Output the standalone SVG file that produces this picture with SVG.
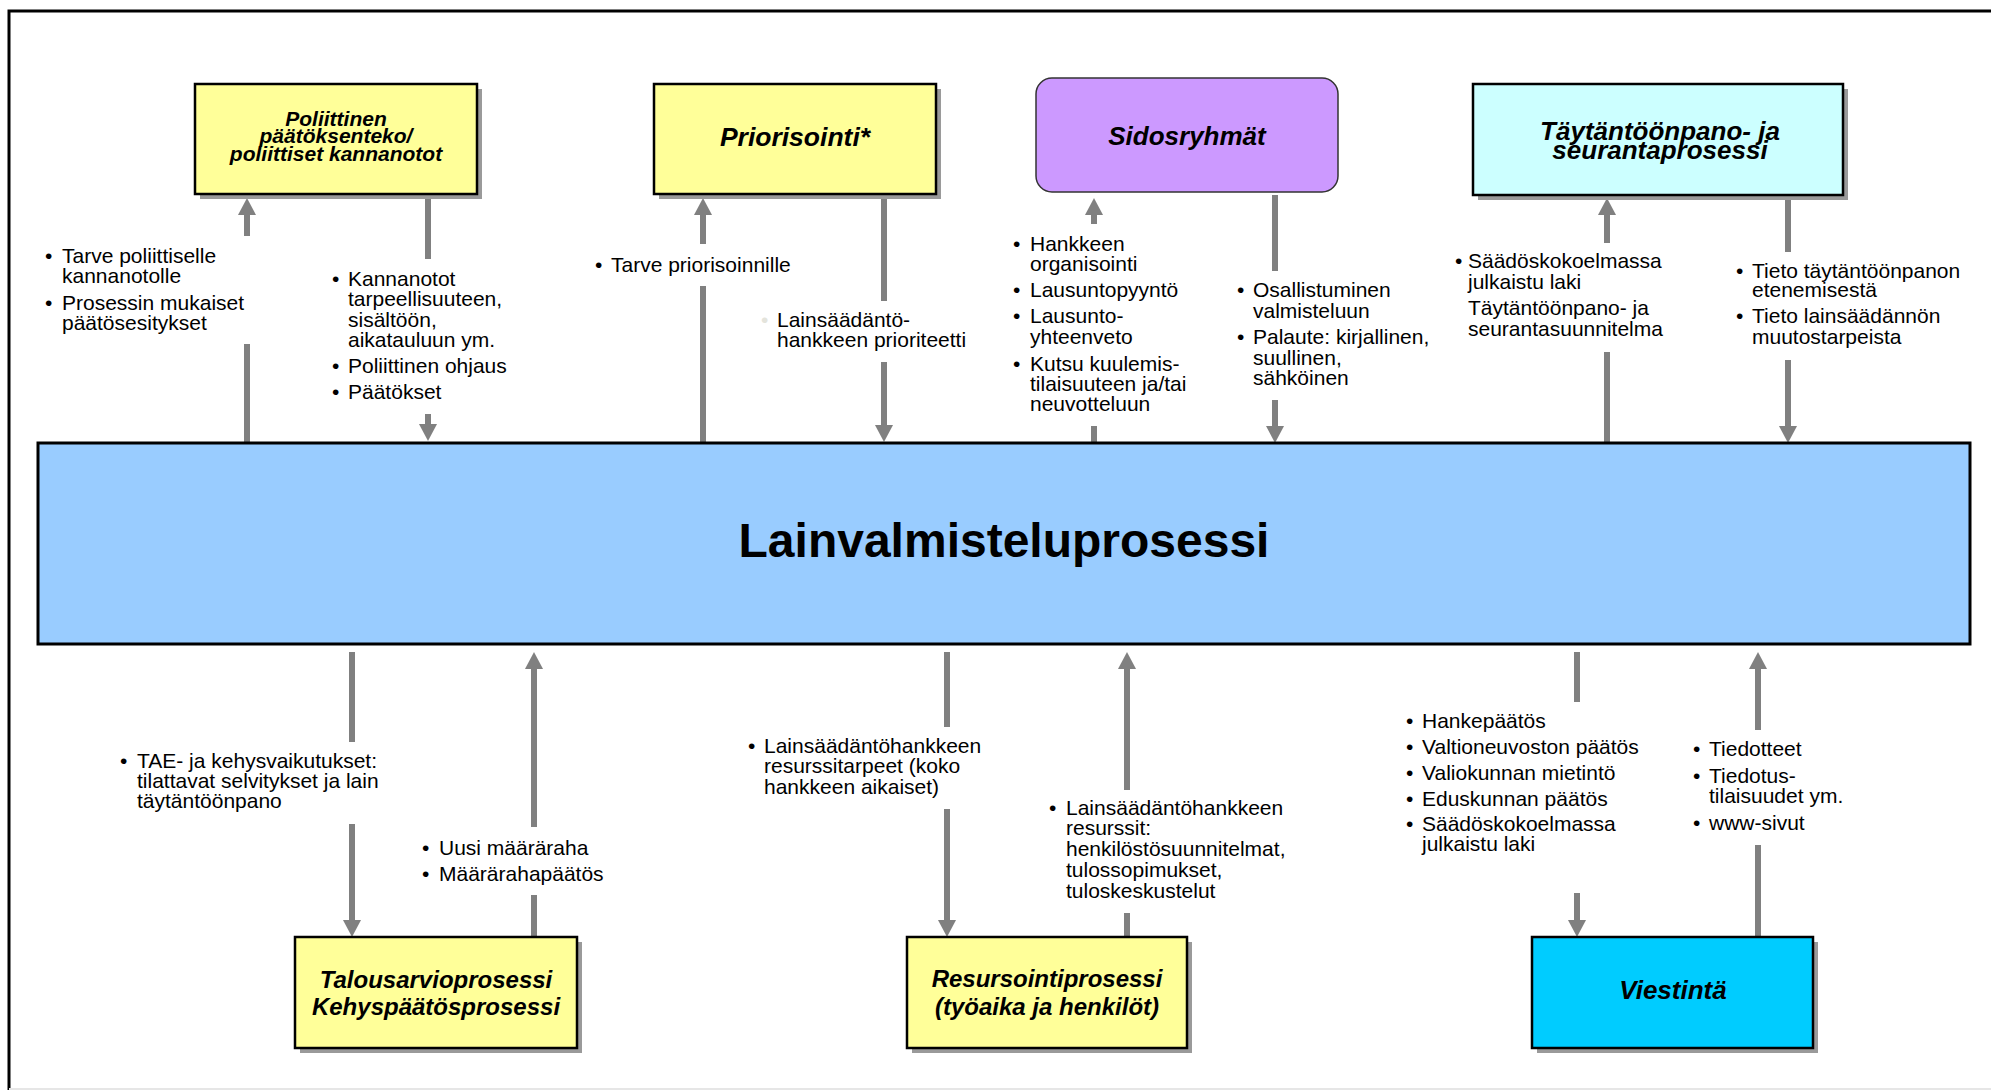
<svg xmlns="http://www.w3.org/2000/svg" width="1991" height="1090" viewBox="0 0 1991 1090">
  <style>
    .box { stroke: #000; stroke-width: 2.5; }
    .shadow { fill: #9a9a9a; }
    .title { font-family: "Liberation Sans", Arial, sans-serif; font-weight: bold; font-style: italic; fill: #000; text-anchor: middle; }
    .main { font-family: "Liberation Sans", Arial, sans-serif; font-weight: bold; font-size: 48px; fill: #000; text-anchor: middle; }
    .lbl { font-family: "Liberation Sans", Arial, sans-serif; font-size: 21px; fill: #000; }
    .conn { stroke: #808080; stroke-width: 6; fill: none; }
  </style>
  <defs>
    <marker id="head" viewBox="0 0 17 18" markerWidth="17" markerHeight="18" refX="5" refY="9" orient="auto" markerUnits="userSpaceOnUse">
      <path d="M0,0 L17,9 L0,18 z" fill="#808080"/>
    </marker>
  </defs>

  <rect width="1991" height="1090" fill="#fff"/>
  <!-- page frame -->
  <path d="M9,1090 V11 H1991" fill="none" stroke="#000" stroke-width="3"/>
  <line x1="9" y1="1089" x2="1991" y2="1089" stroke="#e6e6e6" stroke-width="2"/>

  <!-- connectors (vertical arrows, broken where the labels sit) -->
  <g id="connectors" class="conn">
    <path d="M247,443 V344"/><path d="M247,236 V210" marker-end="url(#head)"/>
    <path d="M428,195 V259"/><path d="M428,414 V429" marker-end="url(#head)"/>
    <path d="M703,443 V286"/><path d="M703,244 V210" marker-end="url(#head)"/>
    <path d="M884,195 V301"/><path d="M884,362 V430" marker-end="url(#head)"/>
    <path d="M1094,443 V426"/><path d="M1094,224 V210" marker-end="url(#head)"/>
    <path d="M1275,195 V271"/><path d="M1275,400 V431" marker-end="url(#head)"/>
    <path d="M1607,443 V352"/><path d="M1607,243 V210" marker-end="url(#head)"/>
    <path d="M1788,195 V252"/><path d="M1788,360 V431" marker-end="url(#head)"/>

    <path d="M352,652 V742"/><path d="M352,824 V925" marker-end="url(#head)"/>
    <path d="M534,937 V895"/><path d="M534,827 V664" marker-end="url(#head)"/>
    <path d="M947,652 V727"/><path d="M947,809 V925" marker-end="url(#head)"/>
    <path d="M1127,937 V913"/><path d="M1127,790 V664" marker-end="url(#head)"/>
    <path d="M1577,652 V702"/><path d="M1577,893 V925" marker-end="url(#head)"/>
    <path d="M1758,937 V845"/><path d="M1758,730 V664" marker-end="url(#head)"/>
  </g>

  <!-- central process -->
  <g id="lainvalmisteluprosessi">
    <rect x="38" y="443" width="1932" height="201" fill="#99CCFF" stroke="#000" stroke-width="3"/>
    <text class="main" x="1004" y="557">Lainvalmisteluprosessi</text>
  </g>

  <!-- upper nodes -->
  <g id="poliittinen">
    <rect class="shadow" x="200" y="89" width="282" height="110"/>
    <rect class="box" x="195" y="84" width="282" height="110" fill="#FFFF99"/>
    <text class="title" x="336" y="126" font-size="21">Poliittinen</text>
    <text class="title" x="336" y="143" font-size="21">päätöksenteko/</text>
    <text class="title" x="336" y="161" font-size="21">poliittiset kannanotot</text>
  </g>
  <g id="priorisointi">
    <rect class="shadow" x="659" y="89" width="282" height="110"/>
    <rect class="box" x="654" y="84" width="282" height="110" fill="#FFFF99"/>
    <text class="title" x="795" y="146" font-size="26.5">Priorisointi*</text>
  </g>
  <g id="sidosryhmat">
    <rect x="1036" y="78" width="302" height="114" rx="16" ry="16" fill="#CC99FF" stroke="#333" stroke-width="1.5"/>
    <text class="title" x="1187" y="145" font-size="26">Sidosryhmät</text>
  </g>
  <g id="taytantoonpano">
    <rect class="shadow" x="1478" y="89" width="370" height="111"/>
    <rect class="box" x="1473" y="84" width="370" height="111" fill="#CCFFFF"/>
    <text class="title" x="1660" y="140" font-size="26">Täytäntöönpano- ja</text>
    <text class="title" x="1660" y="159" font-size="26">seurantaprosessi</text>
  </g>

  <!-- lower nodes -->
  <g id="talousarvioprosessi">
    <rect class="shadow" x="300" y="942" width="282" height="111"/>
    <rect class="box" x="295" y="937" width="282" height="111" fill="#FFFF99"/>
    <text class="title" x="436" y="988" font-size="24">Talousarvioprosessi</text>
    <text class="title" x="436" y="1015" font-size="24">Kehyspäätösprosessi</text>
  </g>
  <g id="resursointiprosessi">
    <rect class="shadow" x="912" y="942" width="280" height="111"/>
    <rect class="box" x="907" y="937" width="280" height="111" fill="#FFFF99"/>
    <text class="title" x="1047" y="987" font-size="24">Resursointiprosessi</text>
    <text class="title" x="1047" y="1015" font-size="24">(työaika ja henkilöt)</text>
  </g>
  <g id="viestinta">
    <rect class="shadow" x="1537" y="942" width="281" height="111"/>
    <rect class="box" x="1532" y="937" width="281" height="111" fill="#00CCFF"/>
    <text class="title" x="1673" y="999" font-size="26">Viestintä</text>
  </g>

  <!-- flow labels -->
  <g id="labels" class="lbl">
    <text x="45" y="263">•</text><text x="62" y="263">Tarve poliittiselle</text>
    <text x="62" y="283">kannanotolle</text>
    <text x="45" y="310">•</text><text x="62" y="310">Prosessin mukaiset</text>
    <text x="62" y="330">päätösesitykset</text>

    <text x="332" y="286">•</text><text x="348" y="286">Kannanotot</text>
    <text x="348" y="306">tarpeellisuuteen,</text>
    <text x="348" y="327">sisältöön,</text>
    <text x="348" y="347">aikatauluun ym.</text>
    <text x="332" y="373">•</text><text x="348" y="373">Poliittinen ohjaus</text>
    <text x="332" y="399">•</text><text x="348" y="399">Päätökset</text>

    <text x="595" y="272">•</text><text x="611" y="272">Tarve priorisoinnille</text>

    <text x="761" y="327" fill="#e4e4dc">•</text><text x="777" y="327">Lainsäädäntö-</text>
    <text x="777" y="347">hankkeen prioriteetti</text>

    <text x="1013" y="251">•</text><text x="1030" y="251">Hankkeen</text>
    <text x="1030" y="271">organisointi</text>
    <text x="1013" y="297">•</text><text x="1030" y="297">Lausuntopyyntö</text>
    <text x="1013" y="323">•</text><text x="1030" y="323">Lausunto-</text>
    <text x="1030" y="344">yhteenveto</text>
    <text x="1013" y="371">•</text><text x="1030" y="371">Kutsu kuulemis-</text>
    <text x="1030" y="391">tilaisuuteen ja/tai</text>
    <text x="1030" y="411">neuvotteluun</text>

    <text x="1237" y="297">•</text><text x="1253" y="297">Osallistuminen</text>
    <text x="1253" y="318">valmisteluun</text>
    <text x="1237" y="344">•</text><text x="1253" y="344">Palaute: kirjallinen,</text>
    <text x="1253" y="365">suullinen,</text>
    <text x="1253" y="385">sähköinen</text>

    <text x="1455" y="268">•</text><text x="1468" y="268">Säädöskokoelmassa</text>
    <text x="1468" y="289">julkaistu laki</text>
    <text x="1468" y="315">Täytäntöönpano- ja</text>
    <text x="1468" y="336">seurantasuunnitelma</text>

    <text x="1736" y="278">•</text><text x="1752" y="278">Tieto täytäntöönpanon</text>
    <text x="1752" y="297">etenemisestä</text>
    <text x="1736" y="323">•</text><text x="1752" y="323">Tieto lainsäädännön</text>
    <text x="1752" y="344">muutostarpeista</text>

    <text x="120" y="768">•</text><text x="137" y="768">TAE- ja kehysvaikutukset:</text>
    <text x="137" y="788">tilattavat selvitykset ja lain</text>
    <text x="137" y="808">täytäntöönpano</text>

    <text x="422" y="855">•</text><text x="439" y="855">Uusi määräraha</text>
    <text x="422" y="881">•</text><text x="439" y="881">Määrärahapäätös</text>

    <text x="748" y="753">•</text><text x="764" y="753">Lainsäädäntöhankkeen</text>
    <text x="764" y="773">resurssitarpeet (koko</text>
    <text x="764" y="794">hankkeen aikaiset)</text>

    <text x="1049" y="815">•</text><text x="1066" y="815">Lainsäädäntöhankkeen</text>
    <text x="1066" y="835">resurssit:</text>
    <text x="1066" y="856">henkilöstösuunnitelmat,</text>
    <text x="1066" y="877">tulossopimukset,</text>
    <text x="1066" y="898">tuloskeskustelut</text>

    <text x="1406" y="728">•</text><text x="1422" y="728">Hankepäätös</text>
    <text x="1406" y="754">•</text><text x="1422" y="754">Valtioneuvoston päätös</text>
    <text x="1406" y="780">•</text><text x="1422" y="780">Valiokunnan mietintö</text>
    <text x="1406" y="806">•</text><text x="1422" y="806">Eduskunnan päätös</text>
    <text x="1406" y="831">•</text><text x="1422" y="831">Säädöskokoelmassa</text>
    <text x="1422" y="851">julkaistu laki</text>

    <text x="1693" y="756">•</text><text x="1709" y="756">Tiedotteet</text>
    <text x="1693" y="783">•</text><text x="1709" y="783">Tiedotus-</text>
    <text x="1709" y="803">tilaisuudet ym.</text>
    <text x="1693" y="830">•</text><text x="1709" y="830">www-sivut</text>
  </g>
</svg>
